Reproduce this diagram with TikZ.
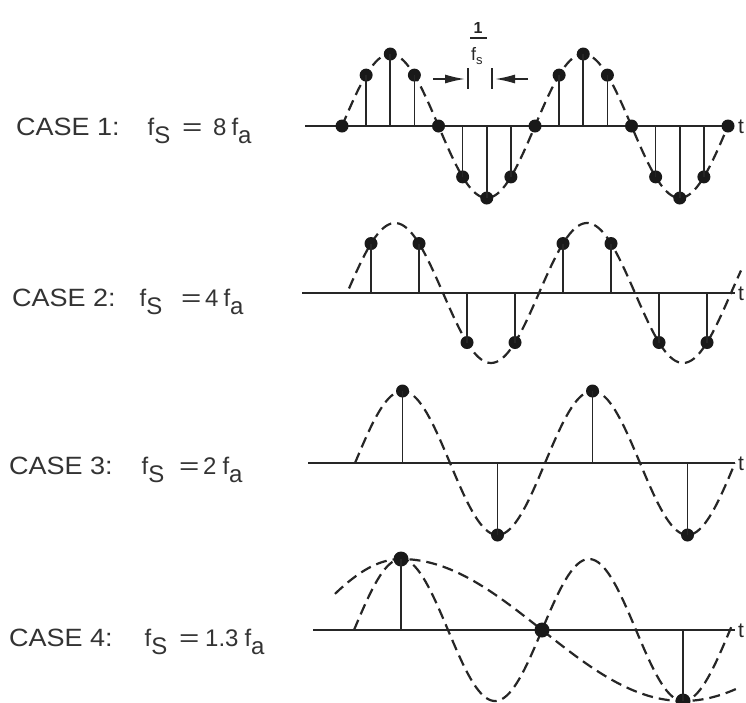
\documentclass[tikz,border=0pt]{standalone}
\usepackage{fontspec}
\setmainfont{Liberation Sans}
\usetikzlibrary{arrows.meta}
\newcommand\frmsize{\fontsize{24}{28}\selectfont}
\newcommand\fx[1]{\hbox{\frmsize #1}}
\newcommand\lsub[1]{\raisebox{-8pt}{\frmsize #1}}
\newcommand\ssub[1]{\raisebox{-4pt}{\fontsize{13}{15}\selectfont #1}}
\newcommand\wideeq{\scalebox{1.45}[1]{\frmsize =}}
\begin{document}
\begin{tikzpicture}[x=1pt,y=-1pt,
  ink/.style={black!85},
  axisline/.style={ink,line width=2.3pt},
  stem/.style={ink,line width=1.6pt},
  wave/.style={ink,line width=2.2pt,dash pattern=on 11pt off 6pt},
  dot/.style={circle,fill=black!90,inner sep=0pt,minimum size=13pt},
  bigdot/.style={circle,fill=black!90,inner sep=0pt,minimum size=15pt},
  lab/.style={anchor=base west,inner sep=0pt,text=black!80,xscale=1.08},
  frm/.style={anchor=base west,inner sep=0pt,text=black!80},
  tlab/.style={anchor=base west,inner sep=0pt,text=black!85}]
\useasboundingbox (0,0) rectangle (746,702);
\fill[white] (0,0) rectangle (746,702);

% ---------- labels ----------
\node[lab] (c1) at (16,135) {\fontsize{25}{29}\selectfont CASE 1:};
\node[frm] (f1) at (147.5,135) {\fx{f}\lsub{S}};
\node[frm] (q1) at (182,135) {\wideeq};
\node[frm] (n1) at (213,135) {\fx{8}\hspace{5pt}\fx{f}\lsub{a}};

\node[lab] (c2) at (12,306) {\fontsize{25}{29}\selectfont CASE 2:};
\node[frm] (f2) at (139.5,306) {\fx{f}\lsub{S}};
\node[frm] (q2) at (181,306) {\wideeq};
\node[frm] (n2) at (205,306) {\fx{4}\hspace{5pt}\fx{f}\lsub{a}};

\node[lab] (c3) at (9,474) {\fontsize{25}{29}\selectfont CASE 3:};
\node[frm] (f3) at (141.5,474) {\fx{f}\lsub{S}};
\node[frm] (q3) at (179,474) {\wideeq};
\node[frm] (n3) at (203,474) {\fx{2}\hspace{6pt}\fx{f}\lsub{a}};

\node[lab] (c4) at (9,646) {\fontsize{25}{29}\selectfont CASE 4:};
\node[frm] (f4) at (144.5,646) {\fx{f}\lsub{S}};
\node[frm] (q4) at (179,646) {\wideeq};
\node[frm] (n4) at (205,646) {\fx{1.3}\hspace{6pt}\fx{f}\lsub{a}};

% ---------- case 1 ----------
\coordinate (ax1a) at (305,126);
\coordinate (ax1b) at (728,126);
\draw[axisline] (ax1a) -- (ax1b);
\node[tlab] (t1) at (738,133) {\fontsize{21}{25}\selectfont t};
\draw[wave] plot[domain=342:728,samples=150] (\x,{126-72*sin((\x-342)/193*360)});
\foreach \k in {0,...,16}{
  \pgfmathsetmacro\xx{342+24.125*\k}
  \pgfmathsetmacro\yy{126-72*sin(45*\k)}
  \coordinate (b1-\k) at (\xx,126);
  \node[dot] (d1-\k) at (\xx,\yy) {};
  \draw[stem] (b1-\k) -- (d1-\k.center);
}
% 1/fs marker
\node[inner sep=0pt,anchor=base,text=black!85] (one) at (478,33) {\hbox{\bfseries\fontsize{16}{19}\selectfont 1}};
\coordinate (fl) at (470,38);
\coordinate (fr) at (487,38);
\draw[ink,line width=1.6pt] (fl) -- (fr);
\node[inner sep=0pt,anchor=base west,text=black!85] (fs) at (471,60) {\hbox{\fontsize{18}{21}\selectfont f}\ssub{s}};
\coordinate (tl1) at (468,68); \coordinate (tl2) at (468,89);
\coordinate (tr1) at (492,68); \coordinate (tr2) at (492,89);
\draw[ink,line width=1.6pt] (tl1) -- (tl2);
\draw[ink,line width=1.6pt] (tr1) -- (tr2);
\coordinate (al0) at (433,79); \coordinate (al1) at (465,79);
\coordinate (ar0) at (528,79); \coordinate (ar1) at (495,79);
\draw[ink,line width=1.6pt,-{Latex[length=20pt,width=9pt]}] (al0) -- (al1);
\draw[ink,line width=1.6pt,-{Latex[length=20pt,width=9pt]}] (ar0) -- (ar1);

% ---------- case 2 ----------
\coordinate (ax2a) at (302,293);
\coordinate (ax2b) at (735,293);
\draw[axisline] (ax2a) -- (ax2b);
\node[tlab] (t2) at (738,300) {\fontsize{21}{25}\selectfont t};
\draw[wave] plot[domain=349:741,samples=150] (\x,{293-70*sin((\x-347)/192*360)});
\foreach \k in {0,...,7}{
  \pgfmathsetmacro\xx{371+48*\k}
  \pgfmathsetmacro\yy{293-70*sin(45+90*\k)}
  \coordinate (b2-\k) at (\xx,293);
  \node[dot] (d2-\k) at (\xx,\yy) {};
  \draw[stem] (b2-\k) -- (d2-\k.center);
}

% ---------- case 3 ----------
\coordinate (ax3a) at (308,463);
\coordinate (ax3b) at (735,463);
\draw[axisline] (ax3a) -- (ax3b);
\node[tlab] (t3) at (738,470) {\fontsize{21}{25}\selectfont t};
\draw[wave] plot[domain=355:735,samples=150] (\x,{463-72*sin((\x-355)/190*360)});
\foreach \k in {0,...,3}{
  \pgfmathsetmacro\xx{402.5+95*\k}
  \pgfmathsetmacro\yy{463-72*sin(90+180*\k)}
  \coordinate (b3-\k) at (\xx,463);
  \node[dot] (d3-\k) at (\xx,\yy) {};
  \draw[stem] (b3-\k) -- (d3-\k.center);
}

% ---------- case 4 ----------
\coordinate (ax4a) at (313,630);
\coordinate (ax4b) at (735,630);
\draw[axisline] (ax4a) -- (ax4b);
\node[tlab] (t4) at (738,637) {\fontsize{21}{25}\selectfont t};
\draw[wave] plot[domain=354:733,samples=150] (\x,{630-71*sin((\x-354)/188*360)});
\draw[wave] plot[domain=335:740,samples=160] (\x,{630-71*cos((\x-401)/ifthenelse(\x<401,200,282)*180)});
\foreach \k/\v in {0/1,1/0,2/-1}{
  \pgfmathsetmacro\xx{401+141*\k}
  \pgfmathsetmacro\yy{630-71*\v}
  \coordinate (b4-\k) at (\xx,630);
  \node[bigdot] (d4-\k) at (\xx,\yy) {};
  \draw[stem] (b4-\k) -- (d4-\k.center);
}
\end{tikzpicture}
\end{document}
